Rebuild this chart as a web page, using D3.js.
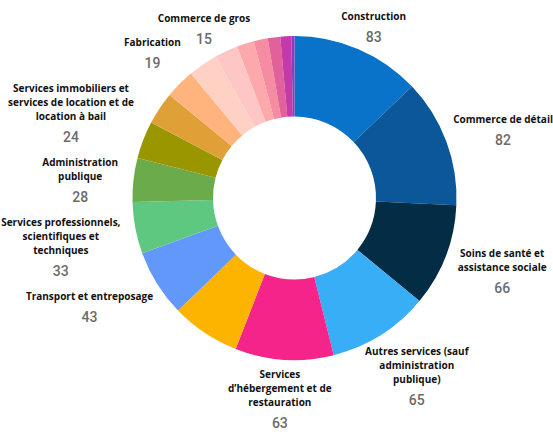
<!DOCTYPE html>
<html>
<head>
<meta charset="utf-8">
<script src="https://cdn.jsdelivr.net/npm/d3@7"></script>
<style>
  body { margin: 0; background: #fff; }
  .name { font-family: "Open Sans", sans-serif; font-weight: 700; font-size: 10px; fill: #111; }
  .value { font-family: Roboto, sans-serif; font-weight: 500; font-size: 14px; fill: #6b6b6b; }
</style>
</head>
<body>
<div id="chart"></div>
<script>
// slices clockwise from 12 o'clock; empty name = slice without a label
const categories = [
    'Construction',
    'Commerce de détail',
    'Soins de santé et\nassistance sociale',
    'Autres services (sauf\nadministration\npublique)',
    'Services\nd’hébergement et de\nrestauration',
    '',
    'Transport et entreposage',
    'Services professionnels,\nscientifiques et\ntechniques',
    'Administration\npublique',
    'Services immobiliers et\nservices de location et de\nlocation à bail',
    '',
    'Fabrication',
    '',
    'Commerce de gros',
    '', '', '', '', ''
];
const values = [83, 82, 66, 65, 63, 44, 43, 33, 28, 24, 21, 19, 19, 15, 11, 9, 8, 7, 2];

const colors = [
    '#0873c9', '#0b5799', '#032c45', '#38aef6', '#f5248a',
    '#fdb400', '#6398fb', '#5fc880', '#6cab4c', '#999600',
    '#e0a038', '#feb47c', '#ffd1c4', '#ffc6c6', '#fda9ab',
    '#f58ca1', '#e2619b', '#c53aa9', '#8a3cc0'
];

const width = 553, height = 432;
const cx = 294.5, cy = 198;
const outerR = 162, innerR = 81.5;
const lineH = 14, valueGap = 22, minGap = 10;

// labels sit a bit closer to the ring near the top
const labelRadius = a => 178 - 12 * Math.pow(Math.max(0, Math.cos(a)), 2);

const svg = d3.select('#chart').append('svg')
    .attr('width', width)
    .attr('height', height);

const g = svg.append('g').attr('transform', `translate(${cx},${cy})`);

const data = categories.map((c, i) => ({ name: c, value: values[i] }));
const pie = d3.pie().sort(null).value(d => d.value);
const arcs = pie(data);

const arc = d3.arc().innerRadius(innerR).outerRadius(outerR);

g.selectAll('path.slice')
    .data(arcs)
    .join('path')
    .attr('class', 'slice')
    .attr('d', arc)
    .attr('fill', (d, i) => colors[i]);

// label block = name lines + value, pushed outward from the ring
const blocks = [];
arcs.filter(d => d.data.name).forEach(d => {
    const lines = d.data.name.split('\n');
    const mid = (d.startAngle + d.endAngle) / 2;
    const r = labelRadius(mid);
    const [ax, ay] = d3.arc().innerRadius(r).outerRadius(r).centroid(d);

    const block = g.append('g');
    lines.forEach((l, i) => {
        block.append('text')
            .attr('class', 'name')
            .attr('text-anchor', 'middle')
            .attr('y', i * lineH)
            .text(l);
    });
    block.append('text')
        .attr('class', 'value')
        .attr('text-anchor', 'middle')
        .attr('y', (lines.length - 1) * lineH + valueGap)
        .text(d.data.value);

    const bb = block.node().getBBox();
    const bx = ax + Math.sin(mid) * bb.width / 2 - (bb.x + bb.width / 2);
    const by = ay - Math.cos(mid) * bb.height / 2 - (bb.y + bb.height / 2);
    blocks.push({ block, bb, x: bx, y: by, left: mid > Math.PI, mid });
});

// spread blocks on each side so they keep a small vertical gap
[true, false].forEach(side => {
    const list = blocks.filter(b => b.left === side && Math.abs(Math.cos(b.mid)) < 0.8)
        .sort((a, b) => (a.y + a.bb.y) - (b.y + b.bb.y));
    for (let iter = 0; iter < 50; iter++) {
        for (let i = 0; i < list.length - 1; i++) {
            const a = list[i], b = list[i + 1];
            const overlap = (a.y + a.bb.y + a.bb.height + minGap) - (b.y + b.bb.y);
            if (overlap > 0) {
                a.y -= overlap / 2;
                b.y += overlap / 2;
            }
        }
    }
});

// keep every block inside the picture
blocks.forEach(b => {
    const left = cx + b.x + b.bb.x, right = left + b.bb.width;
    const top = cy + b.y + b.bb.y, bottom = top + b.bb.height;
    if (right > width) b.x -= right - width;
    if (left < 0) b.x -= left;
    if (bottom > height - 1) b.y -= bottom - (height - 1);
    if (top < 0) b.y -= top;
    b.block.attr('transform', `translate(${b.x},${b.y})`);
});
</script>
</body>
</html>
